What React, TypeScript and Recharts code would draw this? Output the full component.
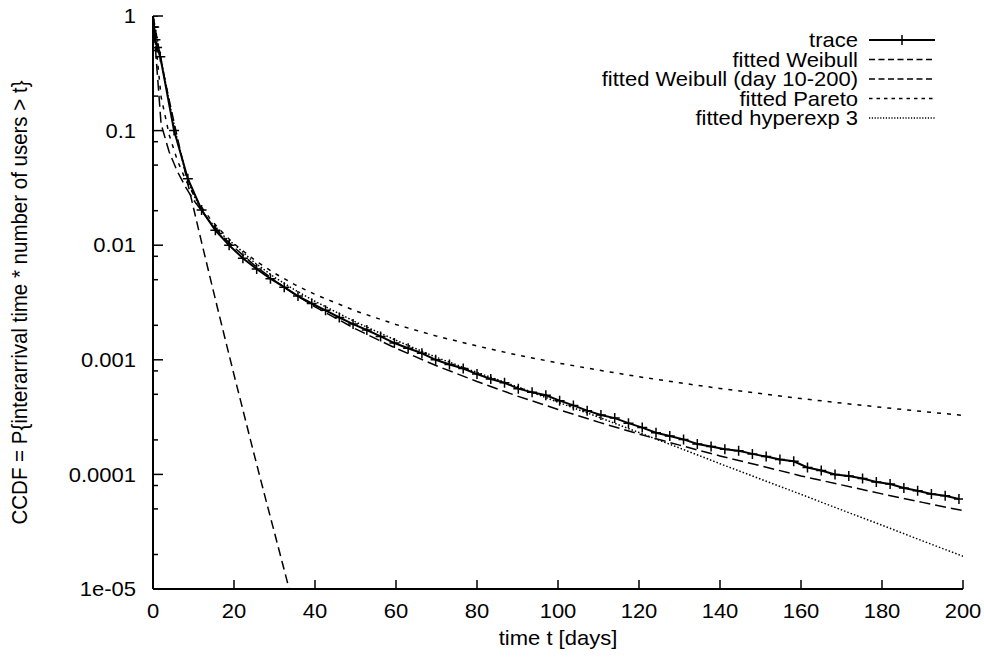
import React from "react";
import { LineChart, Line, XAxis, YAxis, Legend } from "recharts";

const FONT = "'Liberation Sans', Arial, Helvetica, sans-serif";
const FS = 20;
const STRETCH = 1.1;

// measured trace (CCDF of interarrival time * number of users)
const traceDays = [
  0, 0.3, 0.6, 1.0, 1.8, 5.2, 8.6, 12.0, 15.4, 18.8, 22.2, 25.6, 29.0, 32.4, 35.8,
  39.2, 42.6, 46.0, 49.4, 52.8, 56.2, 59.6, 63.0, 66.4, 69.8, 73.2, 76.6, 80.0,
  83.4, 86.8, 90.2, 93.6, 97.0, 100.4, 103.8, 107.2, 110.6, 114.0, 117.4, 120.8,
  124.2, 127.6, 131.0, 134.4, 137.8, 141.2, 144.6, 148.0, 151.4, 154.8, 158.2,
  161.6, 165.0, 168.4, 171.8, 175.2, 178.6, 182.0, 185.4, 188.8, 192.2, 195.6, 199.0,
];
const traceCcdf = [
  1, 0.8, 0.62, 0.53, 0.44, 0.1, 0.038, 0.0203, 0.0135, 0.01, 0.0077, 0.0062,
  0.0051, 0.0043, 0.0036, 0.0031, 0.0027, 0.00234, 0.00205, 0.00182, 0.0016,
  0.0014, 0.00126, 0.00114, 0.001, 0.00091, 0.00084, 0.00075, 0.00068, 0.00063,
  0.00056, 0.00052, 0.00049, 0.00044, 0.0004, 0.00036, 0.00033, 0.00031, 0.00028,
  0.000256, 0.000231, 0.000216, 0.000202, 0.000184, 0.000175, 0.000166, 0.000161,
  0.000151, 0.000143, 0.000135, 0.00013, 0.000115, 0.000108, 0.0001, 0.000097,
  0.000092, 0.000086, 0.0000825, 0.000076, 0.000072, 0.0000675, 0.000065, 0.000061,
];

// Weibull fitted on the whole range (drops out of the plot near day 34)
const weibullDays = [0, 2, 4, 6, 8, 10, 12, 14, 16, 18, 20, 22, 24, 26, 28, 30, 32, 34];
const weibullCcdf = [
  1, 0.404, 0.184, 0.0875, 0.0426, 0.0211, 0.0106, 0.0054, 0.00276, 0.00143,
  0.00074, 0.00039, 0.000204, 0.000108, 0.0000575, 0.000031, 0.0000166, 0.0000089,
];

// the other fits share the same sample days
const fitDays = [
  0, 2, 4, 6, 8, 10, 12, 14, 16, 18, 20, 25, 30, 35, 40, 50, 60, 70, 80, 90, 100,
  110, 120, 130, 140, 150, 160, 170, 180, 190, 200,
];
const weibull10Ccdf = [
  1, 0.1138, 0.065, 0.0441, 0.0324, 0.0248, 0.02, 0.016, 0.01334, 0.01122, 0.00959,
  0.00671, 0.00492, 0.00373, 0.0029, 0.00186, 0.00126, 0.000887, 0.000647,
  0.000482, 0.000369, 0.000286, 0.000225, 0.00018, 0.000145, 0.000119, 0.000097,
  0.000081, 0.0000676, 0.000057, 0.0000483,
];
const paretoCcdf = [
  1, 0.197, 0.0916, 0.0551, 0.0376, 0.0277, 0.0215, 0.01723, 0.01426, 0.01202,
  0.01033, 0.00746, 0.0057, 0.00453, 0.00372, 0.00267, 0.00203, 0.00161, 0.00132,
  0.0011, 0.000938, 0.000813, 0.000711, 0.00063, 0.000562, 0.000507, 0.000459,
  0.000419, 0.000384, 0.000354, 0.000327,
];
const hyperexpCcdf = [
  1, 0.417, 0.178, 0.0832, 0.0437, 0.0275, 0.0204, 0.0162, 0.0138, 0.0115, 0.0102,
  0.00708, 0.00525, 0.00407, 0.00324, 0.00214, 0.00148, 0.00105, 0.000776,
  0.000582, 0.000427, 0.000316, 0.000232, 0.00017, 0.000124, 0.000091, 0.000067,
  0.000049, 0.000036, 0.0000263, 0.0000193,
];

const xTicks = [0, 20, 40, 60, 80, 100, 120, 140, 160, 180, 200];
const yMajorTicks = [1, 0.1, 0.01, 0.001, 0.0001, 0.00001];
const yMajorLabels = ["1", "0.1", "0.01", "0.001", "0.0001", "1e-05"];
const yMinorTicks = [
  0.8, 0.5, 0.2, 0.08, 0.05, 0.02, 0.008, 0.005, 0.002, 0.0008, 0.0005, 0.0002,
  0.00008, 0.00005, 0.00002,
];
const yTicks = [...yMajorTicks, ...yMinorTicks].sort((a, b) => a - b);

const zip = (xs: number[], ys: number[]) => xs.map((t, i) => ({ t, v: ys[i] }));

interface Series {
  name: string;
  data: { t: number; v: number }[];
  dash?: string;
  legendDash?: string;
  width: number;
  marker?: boolean;
}

const series: Series[] = [
  { name: "trace", data: zip(traceDays, traceCcdf), width: 2, marker: true },
  { name: "fitted Weibull", data: zip(weibullDays, weibullCcdf), dash: "9 5", legendDash: "6 3.5", width: 1.5 },
  { name: "fitted Weibull (day 10-200)", data: zip(fitDays, weibull10Ccdf), dash: "11 5", legendDash: "6 3.5", width: 1.5 },
  { name: "fitted Pareto", data: zip(fitDays, paretoCcdf), dash: "4 6", legendDash: "3.5 4", width: 1.5 },
  { name: "fitted hyperexp 3", data: zip(fitDays, hyperexpCcdf), dash: "1.5 2", legendDash: "1.2 1.6", width: 1.5 },
];

const majorIndex = (v: number) => yMajorTicks.findIndex((m) => Math.abs(m - v) < m * 1e-6);

const plusPath = (x: number, y: number) => `M${x - 5},${y}H${x + 5}M${x},${y - 5}V${y + 5}`;

// gnuplot-like text, a little wider than plain Arial
const Txt = ({ x, y, anchor, children }: { x: number; y: number; anchor: string; children: React.ReactNode }) => (
  <text
    transform={`translate(${x},${y}) scale(${STRETCH},1)`}
    dy="0.36em"
    textAnchor={anchor}
    fontSize={FS}
    fontFamily={FONT}
    fill="#000"
  >
    {children}
  </text>
);

const PlusDot = (props: any) => {
  const { cx, cy } = props;
  if (cx == null || cy == null) return null;
  return <path d={plusPath(cx, cy)} stroke="#000" strokeWidth={1.5} fill="none" />;
};

const BottomTick = ({ x, y, payload }: any) => (
  <g>
    <line x1={x} y1={y} x2={x} y2={y - 9} stroke="#000" strokeWidth={1.5} />
    <Txt x={x} y={y + 22} anchor="middle">
      {payload.value}
    </Txt>
  </g>
);

const TopTick = ({ x, y }: any) => (
  <line x1={x} y1={y} x2={x} y2={y + 9} stroke="#000" strokeWidth={1.5} />
);

const LeftTick = ({ x, y, payload }: any) => {
  const idx = majorIndex(payload.value);
  const len = idx >= 0 ? 10 : 5;
  return (
    <g>
      <line x1={x} y1={y} x2={x + len} y2={y} stroke="#000" strokeWidth={1.5} />
      {idx >= 0 && (
        <Txt x={x - 17} y={y} anchor="end">
          {yMajorLabels[idx]}
        </Txt>
      )}
    </g>
  );
};

const RightTick = ({ x, y, payload }: any) => {
  const len = majorIndex(payload.value) >= 0 ? 10 : 5;
  return <line x1={x} y1={y} x2={x - len} y2={y} stroke="#000" strokeWidth={1.5} />;
};

const LegendBox = () => {
  const rowGap = 19.5;
  return (
    <svg width={440} height={110} style={{ display: "block" }}>
      {series.map((s, i) => {
        const cy = 10 + i * rowGap;
        return (
          <g key={s.name}>
            <Txt x={350} y={cy} anchor="end">
              {s.name}
            </Txt>
            <line x1={361} x2={427} y1={cy} y2={cy} stroke="#000" strokeWidth={s.width} strokeDasharray={s.legendDash} />
            {s.marker && <path d={plusPath(394, cy)} stroke="#000" strokeWidth={1.5} fill="none" />}
          </g>
        );
      })}
    </svg>
  );
};

const CcdfChart: React.FC = () => {
  const axisLine = { stroke: "#000", strokeWidth: 2 };
  return (
    <LineChart width={984} height={659} margin={{ top: 16, right: 21, bottom: 8, left: 8 }} style={{ fontFamily: FONT }}>
      <XAxis
        type="number"
        dataKey="t"
        domain={[0, 200]}
        ticks={xTicks}
        interval={0}
        allowDataOverflow
        height={62}
        tickSize={0}
        tickMargin={0}
        tickLine={false}
        axisLine={axisLine}
        tick={<BottomTick />}
        label={{
          content: (p: any) => (
            <Txt x={p.viewBox.x + p.viewBox.width / 2} y={p.viewBox.y + 49} anchor="middle">
              time t [days]
            </Txt>
          ),
        }}
      />
      <XAxis
        xAxisId="top"
        orientation="top"
        type="number"
        dataKey="t"
        domain={[0, 200]}
        ticks={xTicks}
        interval={0}
        allowDataOverflow
        height={0}
        tickSize={0}
        tickMargin={0}
        tickLine={false}
        axisLine={axisLine}
        tick={<TopTick />}
      />
      <YAxis
        type="number"
        scale="log"
        domain={[0.00001, 1]}
        ticks={yTicks}
        interval={0}
        allowDataOverflow
        width={145}
        tickSize={0}
        tickMargin={0}
        tickLine={false}
        axisLine={axisLine}
        tick={<LeftTick />}
        label={{
          content: (p: any) => {
            const cx = p.viewBox.x + 11;
            const cy = p.viewBox.y + p.viewBox.height / 2;
            return (
              <text
                transform={`translate(${cx},${cy}) rotate(-90) scale(1,${STRETCH})`}
                dy="0.36em"
                textAnchor="middle"
                fontSize={20.5}
                fontFamily={FONT}
                fill="#000"
              >
                {"CCDF = P{interarrival time * number of users > t}"}
              </text>
            );
          },
        }}
      />
      <YAxis
        yAxisId="right"
        orientation="right"
        type="number"
        scale="log"
        domain={[0.00001, 1]}
        ticks={yTicks}
        interval={0}
        allowDataOverflow
        width={0}
        tickSize={0}
        tickMargin={0}
        tickLine={false}
        axisLine={axisLine}
        tick={<RightTick />}
      />
      <Legend
        layout="vertical"
        align="center"
        verticalAlign="middle"
        content={<LegendBox />}
        wrapperStyle={{ left: 508, top: 30, width: 440, height: 110 }}
      />
      {series
        .slice()
        .reverse()
        .map((s) => (
          <Line
            key={s.name}
            name={s.name}
            data={s.data}
            dataKey="v"
            type="linear"
            stroke="#000"
            strokeWidth={s.width}
            strokeDasharray={s.dash}
            dot={s.marker ? (p: any) => <PlusDot key={`${s.name}-${p.index}`} {...p} /> : false}
            activeDot={false}
            isAnimationActive={false}
          />
        ))}
    </LineChart>
  );
};

export default function App() {
  return (
    <>
      <style>{"body{margin:0;overflow:hidden}"}</style>
      <CcdfChart />
    </>
  );
}
